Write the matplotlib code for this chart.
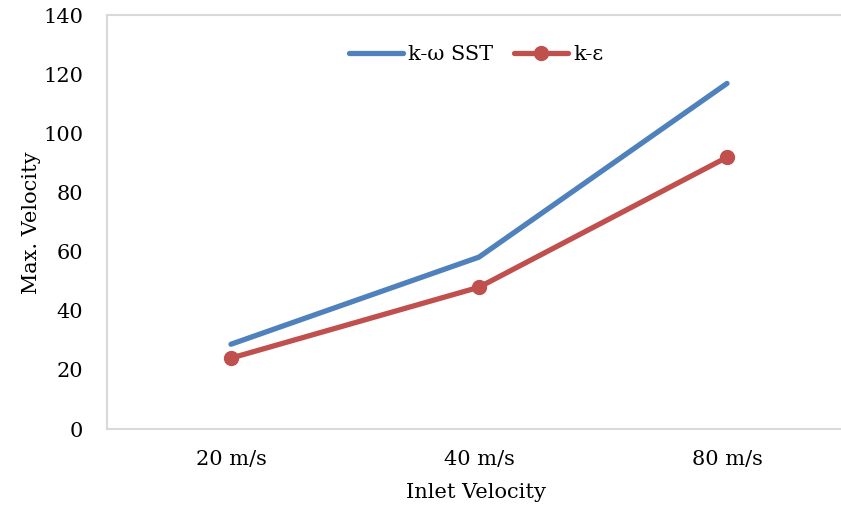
import matplotlib.pyplot as plt

categories = ['20 m/s', '40 m/s', '80 m/s']
sst_values = [28.7, 58.2, 117.0]
ke_values = [24.0, 48.0, 92.0]

plt.rcParams['font.family'] = ['DejaVu Serif']

fig = plt.figure(figsize=(8.41, 5.11), dpi=100)
ax = fig.add_axes([107 / 841, 1 - 429 / 511, 744 / 841, (429 - 15.5) / 511])

x = range(len(categories))
ax.plot(x, sst_values, color='#4F81BD', lw=3.8, solid_capstyle='round',
        label='k-\u03c9 SST')
ax.plot(x, ke_values, color='#C0504D', lw=3.8, solid_capstyle='round',
        marker='o', markersize=10, label='k-\u03b5')

ax.set_xlim(-0.5, 2.5)
ax.set_ylim(0, 140)
ax.set_yticks(range(0, 141, 20))
ax.set_xticks(list(x))
ax.set_xticklabels(categories)
ax.tick_params(axis='y', length=0, pad=17, labelsize=15)
ax.tick_params(axis='x', length=0, pad=15, labelsize=15)

for s in ['left', 'bottom', 'top']:
    ax.spines[s].set_color('#D9D9D9')
    ax.spines[s].set_linewidth(1.5)
ax.spines['right'].set_visible(False)

ax.set_ylabel('Max. Velocity', fontsize=15)
ax.yaxis.set_label_coords(-(107 - 41) / 744, 0.5)
ax.set_xlabel('Inlet Velocity', fontsize=15)
ax.xaxis.set_label_coords((476 - 107) / 744, -(483 - 429) / 413.5)

ax.legend(loc='center', bbox_to_anchor=(0.496, 0.905), ncol=2, frameon=False,
          fontsize=15, handlelength=2.6, handletextpad=0.25, columnspacing=1.0)

fig.savefig('out.png', dpi=100)
